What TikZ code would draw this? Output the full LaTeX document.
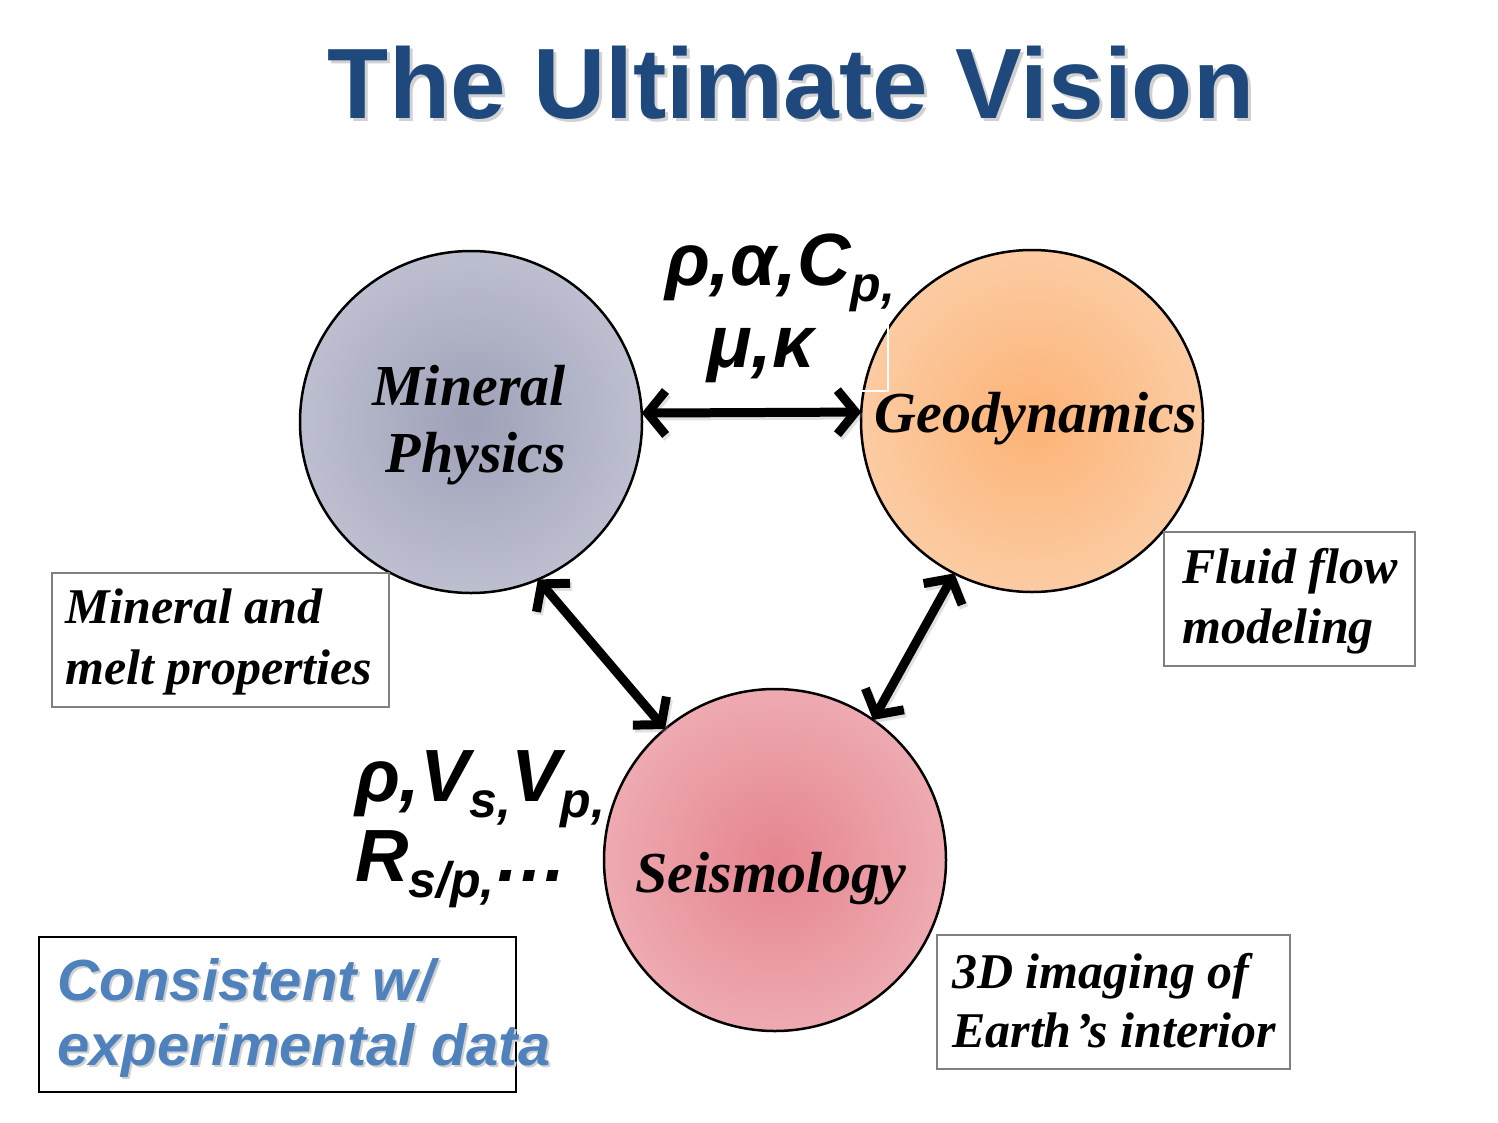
\documentclass[tikz,border=0pt]{standalone}
\usepackage{fontspec}
\setmainfont{Liberation Serif}
\setsansfont{Liberation Sans}
\usetikzlibrary{arrows.meta}

\definecolor{titleblue}{HTML}{1F497D}
\definecolor{noteblue}{HTML}{4F81BD}
\definecolor{boxgray}{HTML}{808080}

% radial fills of the three discs: darker in the middle, lighter at the rim
\pgfdeclareradialshading{mpshade}{\pgfpoint{0bp}{0bp}}{rgb(0bp)=(0.62,0.63,0.72); rgb(46bp)=(0.84,0.85,0.89); rgb(50bp)=(0.84,0.85,0.89)}
\pgfdeclareradialshading{geoshade}{\pgfpoint{0bp}{0bp}}{rgb(0bp)=(0.99,0.70,0.46); rgb(46bp)=(0.99,0.88,0.79); rgb(50bp)=(0.99,0.88,0.79)}
\pgfdeclareradialshading{seisshade}{\pgfpoint{0bp}{0bp}}{rgb(0bp)=(0.90,0.52,0.56); rgb(46bp)=(0.96,0.79,0.81); rgb(50bp)=(0.96,0.79,0.81)}

% lowered, smaller subscript for the parameter lists
\newcommand{\lowsub}[1]{\raisebox{-16pt}{\fontsize{50pt}{50pt}\selectfont #1}}

\tikzset{
  disc/.style={circle, draw, line width=2.5pt, minimum size=342pt, inner sep=0pt, outer sep=0pt},
  disclabel/.style={font=\fontsize{58pt}{58pt}\selectfont\bfseries\itshape, inner sep=0pt, anchor=base},
  notetext/.style={font=\fontsize{50pt}{50pt}\selectfont\bfseries\itshape, inner sep=0pt, anchor=base west},
  notebox/.style={draw=boxgray, line width=2pt, inner sep=0pt, anchor=north west},
  params/.style={font=\sffamily\fontsize{74pt}{74pt}\selectfont\bfseries\itshape, inner sep=0pt, anchor=base west},
  bluetext/.style={font=\sffamily\fontsize{58pt}{58pt}\selectfont\bfseries\itshape, inner sep=0pt, anchor=base west},
  link/.style={line width=9pt, {Straight Barb[length=18pt,width=44pt]}-{Straight Barb[length=18pt,width=44pt]}},
  linkshadow/.style={link, draw=black!40, opacity=0.3, transform canvas={shift={(2pt,-3pt)}}},
}

\begin{document}
\begin{tikzpicture}[x=1pt, y=-1pt]
\useasboundingbox[fill=white] (0,0) rectangle (1498,1122);

% title with its soft drop shadow
\node[font=\sffamily\fontsize{100pt}{100pt}\selectfont\bfseries, text=black!18, inner sep=0pt, anchor=base]
  (titleshadow) at (794,121) {The Ultimate Vision};
\node[font=\sffamily\fontsize{100pt}{100pt}\selectfont\bfseries, text=titleblue, inner sep=0pt, anchor=base]
  (title) at (791,118) {The Ultimate Vision};

% the three discs
\node[disc, shading=mpshade] (mp) at (471,422) {};
\node[disc, shading=geoshade] (geo) at (1032,421) {};
\node[disc, shading=seisshade] (seis) at (775,860) {};

\node[disclabel] (mp1) at (469,405) {Mineral};
\node[disclabel] (mp2) at (476,472) {Physics};
\node[disclabel] (geo1) at (1036,432) {Geodynamics};
\node[disclabel] (seis1) at (771,892) {Seismology};

% frame edge of the upper parameter block
\draw[white, line width=1.5pt] (655,222) rectangle (888,391);

% links between the discs
\draw[linkshadow] (mp.3) -- (geo.177);
\draw[linkshadow] (mp.-67) -- (seis.130);
\draw[linkshadow] (geo.-117) -- (seis.55);
\draw[link] (mp.3) -- (geo.177);
\draw[link] (mp.-67) -- (seis.130);
\draw[link] (geo.-117) -- (seis.55);

% parameter lists
\node[params] (par1) at (665,285) {ρ,α,C\lowsub{p,}};
\node[params] (par2) at (707,367) {μ,κ};
\node[params] (par3) at (355,801) {ρ,V\lowsub{s,}V\lowsub{p,}};
\node[params] (par4) at (355,881) {R\lowsub{s/p,}…};

% side notes
\node[notebox, minimum width=337pt, minimum height=134pt] (mpbox) at (51,572) {};
\node[notetext] (mpnote1) at (65,623) {Mineral and};
\node[notetext] (mpnote2) at (65,684) {melt properties};

\node[notebox, minimum width=251pt, minimum height=134pt] (geobox) at (1163,531) {};
\node[notetext] (geonote1) at (1182,583) {Fluid flow};
\node[notetext] (geonote2) at (1182,643) {modeling};

\node[notebox, minimum width=353pt, minimum height=134pt] (seisbox) at (936,934) {};
\node[notetext] (seisnote1) at (952,988) {3D imaging of};
\node[notetext] (seisnote2) at (952,1047) {Earth\kern4pt’s interior};

% consistency note, blue text with a faint shadow
\node[draw=black, line width=2pt, inner sep=0pt, anchor=north west, minimum width=477pt, minimum height=155pt] (databox) at (38,936) {};
\node[bluetext, text=black!18] (data1s) at (59,1002) {Consistent w/};
\node[bluetext, text=black!18] (data2s) at (59,1067) {experimental data};
\node[bluetext, text=noteblue] (data1) at (57,1000) {Consistent w/};
\node[bluetext, text=noteblue] (data2) at (57,1065) {experimental data};
\end{tikzpicture}
\end{document}
